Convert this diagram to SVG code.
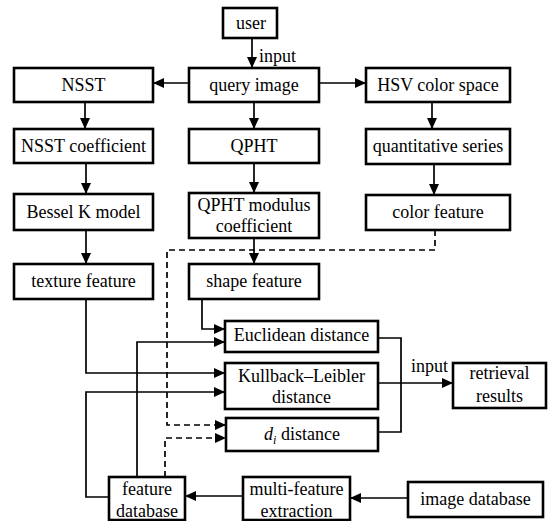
<svg xmlns="http://www.w3.org/2000/svg" width="552" height="521" viewBox="0 0 552 521">
<style>
.box{fill:#fff;stroke:#000;stroke-width:2.6}
text{font-family:"Liberation Serif","Times New Roman",serif;font-size:18px;fill:#000;text-anchor:middle}
.c{fill:none;stroke:#000;stroke-width:1.7}
.d{stroke-dasharray:6,4}
.lbl{text-anchor:start}
</style>
<defs>
<marker id="a" markerUnits="userSpaceOnUse" markerWidth="12" markerHeight="11" refX="11" refY="5" orient="auto">
<path d="M0,0 L11,5 L0,10 z" fill="#000" stroke="none"/>
</marker>
</defs>
<rect width="552" height="521" fill="#fff"/>
<g id="connectors">
<path class="c" d="M252,38 V68" marker-end="url(#a)"/>
<path class="c" d="M189,83 H153" marker-end="url(#a)"/>
<path class="c" d="M319,83 H366" marker-end="url(#a)"/>
<path class="c" d="M85,102 V129" marker-end="url(#a)"/>
<path class="c" d="M254,102 V129" marker-end="url(#a)"/>
<path class="c" d="M432,103 V129" marker-end="url(#a)"/>
<path class="c" d="M86,163 V194" marker-end="url(#a)"/>
<path class="c" d="M254,163 V193" marker-end="url(#a)"/>
<path class="c" d="M434,164 V195" marker-end="url(#a)"/>
<path class="c" d="M86,230 V264" marker-end="url(#a)"/>
<path class="c" d="M254,238 V264" marker-end="url(#a)"/>
<path class="c d" d="M435,230 V250 H167 V425 H226" marker-end="url(#a)"/>
<path class="c" d="M86,299 V373 H225" marker-end="url(#a)"/>
<path class="c" d="M202,299 V329 H225" marker-end="url(#a)"/>
<path class="c" d="M137,477 V342 H225" marker-end="url(#a)"/>
<path class="c" d="M109,497 H86 V392 H225" marker-end="url(#a)"/>
<path class="c d" d="M165,477 V438 H226" marker-end="url(#a)"/>
<path class="c" d="M378,338 H401 V432 H378"/>
<path class="c" d="M378,383 H453" marker-end="url(#a)"/>
<path class="c" d="M243,496 H185" marker-end="url(#a)"/>
<path class="c" d="M408,498 H350" marker-end="url(#a)"/>
<text class="lbl" x="259" y="62">input</text>
<text class="lbl" x="411" y="372">input</text>
</g>
<g id="user"><rect class="box" x="223" y="8" width="54" height="30"/><text x="251" y="29">user</text></g>
<g id="query"><rect class="box" x="189" y="68" width="130" height="34"/><text x="254" y="91">query image</text></g>
<g id="nsst"><rect class="box" x="14" y="68" width="139" height="34"/><text x="83.5" y="91">NSST</text></g>
<g id="hsv"><rect class="box" x="366" y="68" width="144" height="34"/><text x="438" y="91">HSV color space</text></g>
<g id="nsstcoef"><rect class="box" x="14" y="129" width="139" height="34"/><text x="83.5" y="152">NSST coefficient</text></g>
<g id="qpht"><rect class="box" x="189" y="129" width="130" height="34"/><text x="254" y="152">QPHT</text></g>
<g id="quant"><rect class="box" x="366" y="129" width="144" height="35"/><text x="438" y="152">quantitative series</text></g>
<g id="bessel"><rect class="box" x="14" y="194" width="139" height="36"/><text x="83.5" y="218">Bessel K model</text></g>
<g id="qphtmod"><rect class="box" x="189" y="193" width="130" height="45"/><text x="254" y="211">QPHT modulus</text><text x="254" y="232">coefficient</text></g>
<g id="color"><rect class="box" x="366" y="195" width="144" height="35"/><text x="438" y="218">color feature</text></g>
<g id="texture"><rect class="box" x="14" y="264" width="139" height="35"/><text x="83.5" y="287">texture feature</text></g>
<g id="shape"><rect class="box" x="189" y="264" width="130" height="35"/><text x="254" y="287">shape feature</text></g>
<g id="euclid"><rect class="box" x="225" y="321" width="153" height="31"/><text x="301.5" y="341">Euclidean distance</text></g>
<g id="kl"><rect class="box" x="225" y="363" width="153" height="46"/><text x="301.5" y="382">Kullback–Leibler</text><text x="301.5" y="403">distance</text></g>
<g id="di"><rect class="box" x="226" y="418" width="152" height="33"/><text x="302" y="440"><tspan font-style="italic">d</tspan><tspan font-style="italic" font-size="12" dy="4">i</tspan><tspan dy="-4"> distance</tspan></text></g>
<g id="retrieval"><rect class="box" x="453" y="363" width="93" height="45"/><text x="499.5" y="379">retrieval</text><text x="499.5" y="402">results</text></g>
<g id="featdb"><rect class="box" x="109" y="477" width="76" height="43"/><text x="147" y="495">feature</text><text x="147" y="517">database</text></g>
<g id="multi"><rect class="box" x="243" y="477" width="107" height="43"/><text x="296.5" y="495">multi-feature</text><text x="296.5" y="517">extraction</text></g>
<g id="imgdb"><rect class="box" x="408" y="482" width="135" height="35"/><text x="475.5" y="505">image database</text></g>
</svg>
